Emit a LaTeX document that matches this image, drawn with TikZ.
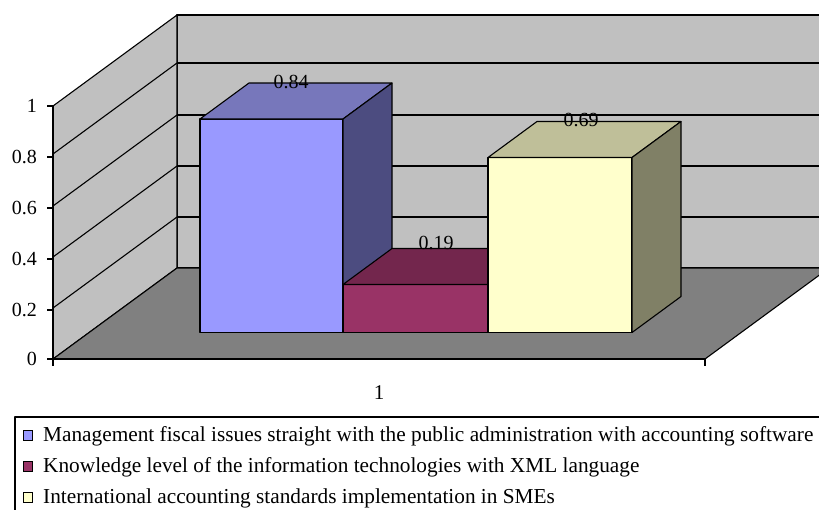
\documentclass[tikz,border=0pt]{standalone}
\usepackage{fontspec}
\setmainfont{Liberation Serif}
\definecolor{wallc}{HTML}{C0C0C0}
\definecolor{floorc}{HTML}{808080}
\definecolor{aF}{HTML}{9999FF}
\definecolor{aT}{HTML}{7777BB}
\definecolor{aS}{HTML}{4C4C80}
\definecolor{bF}{HTML}{993366}
\definecolor{bT}{HTML}{73264D}
\definecolor{bS}{HTML}{4D1A33}
\definecolor{cF}{HTML}{FFFFCC}
\definecolor{cT}{HTML}{BFBF99}
\definecolor{cS}{HTML}{808066}
\tikzset{
  edge/.style={draw=black, line width=1.1pt, line join=round},
  gridl/.style={draw=black, line width=1.1pt},
  axl/.style={draw=black, line width=1.6pt},
  ticklbl/.style={anchor=east, inner sep=0pt, font=\fontsize{20}{22}\selectfont},
  datalbl/.style={inner sep=0pt, font=\fontsize{20}{22}\selectfont},
  catlbl/.style={inner sep=0pt, font=\fontsize{21}{24}\selectfont},
  leglbl/.style={anchor=base west, inner sep=0pt, font=\fontsize{21.3}{24}\selectfont},
  legsq/.style={draw=black, line width=0.9pt},
}
% bar: #1 left x, #2 right x, #3 top y (front), #4 front col, #5 top col, #6 side col
\newcommand{\mybar}[6]{%
  \filldraw[edge, fill=#4] (#1,332.5) rectangle (#2,#3);
  \filldraw[edge, fill=#5] (#1,#3) -- (#2,#3) -- ++(49,-36) -- ({#1+49},{#3-36}) -- cycle;
  \filldraw[edge, fill=#6] (#2,332.5) -- (#2,#3) -- ++(49,-36) -- ({#2+49},{332.5-36}) -- cycle;
}
\begin{document}
\begin{tikzpicture}[x=1pt,y=-1pt]
\clip (0,0) rectangle (819,509);
\fill[white] (0,0) rectangle (819,509);
% walls and floor
\coordinate (lwf) at (53,359);
\coordinate (lwt) at (53,106);
\coordinate (bwtl) at (177,15);
\coordinate (bwbl) at (177,268);
\coordinate (flr) at (705,359);
\filldraw[edge, fill=wallc] (177,15) -- (840,15) -- (840,268) -- (177,268) -- cycle;
\filldraw[edge, fill=wallc] (lwt) -- (bwtl) -- (bwbl) -- (lwf) -- cycle;
\filldraw[edge, fill=floorc] (lwf) -- (flr) -- ++(124,-91) -- (bwbl) -- cycle;
% gridlines
\foreach \y in {63,115,166,217} {
  \draw[gridl] (177,\y) -- (840,\y);
  \draw[gridl] (53,{\y+91}) -- (177,\y);
}
\draw[axl] (177,15) -- (840,15);
% axes
\draw[axl] (lwt) -- (lwf) -- (flr);
\foreach \y in {106,157,208,259,310,359} \draw[gridl] (47,\y) -- (53,\y);
\draw[gridl] (53,359) -- (53,366);
\draw[gridl] (705,359) -- (705,366);
% y labels
\node[ticklbl] (y0) at (37,359) {0};
\node[ticklbl] (y1) at (37,310) {0.2};
\node[ticklbl] (y2) at (37,259) {0.4};
\node[ticklbl] (y3) at (37,208) {0.6};
\node[ticklbl] (y4) at (37,157) {0.8};
\node[ticklbl] (y5) at (37,106) {1};
% bars
\mybar{200}{343}{119}{aF}{aT}{aS}
\mybar{343}{488}{284.5}{bF}{bT}{bS}
\mybar{488}{632}{157.5}{cF}{cT}{cS}
% data labels
\node[datalbl] (d1) at (291,82) {0.84};
\node[datalbl] (d2) at (436,243) {0.19};
\node[datalbl] (d3) at (581,120) {0.69};
% category
\node[catlbl] (cat) at (379,393) {1};
% legend
\draw[edge] (15,530) -- (15,417) -- (840,417);
\filldraw[legsq, fill=aF] (23,430) rectangle (32,440);
\filldraw[legsq, fill=bF] (23,461) rectangle (32,471);
\filldraw[legsq, fill=cF] (23,492) rectangle (32,502);
\node[leglbl] (l1) at (43,441) {Management fiscal issues straight with the public administration with accounting software};
\node[leglbl] (l2) at (43,472) {Knowledge level of the information technologies with XML language};
\node[leglbl] (l3) at (43,503) {International accounting standards implementation in SMEs};
\end{tikzpicture}
\end{document}
